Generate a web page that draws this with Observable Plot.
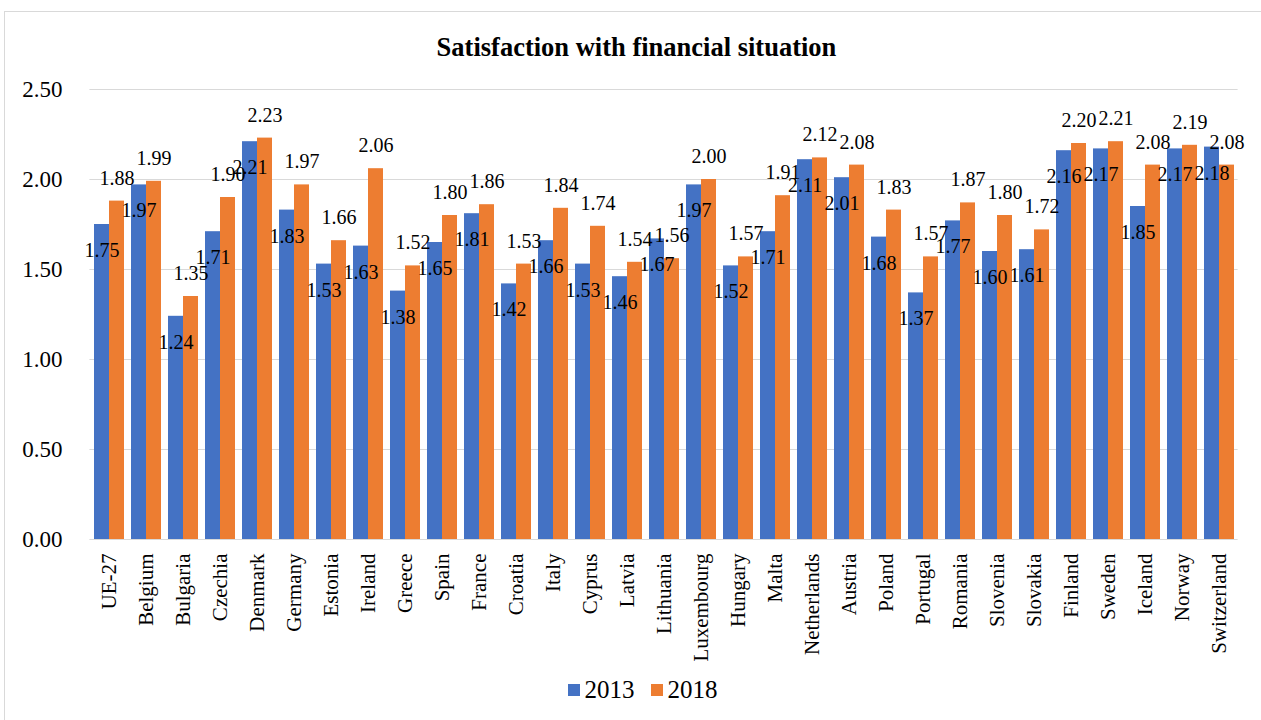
<!DOCTYPE html>
<html>
<head>
<meta charset="utf-8">
<script src="https://cdn.jsdelivr.net/npm/d3@7"></script>
<script src="https://cdn.jsdelivr.net/npm/@observablehq/plot@0.6"></script>
<style>
  html, body { margin: 0; padding: 0; background: #fff; }
  body { width: 1261px; height: 720px; overflow: hidden; position: relative; font-family: "Liberation Serif", "Times New Roman", serif; }
  #frame { position: absolute; left: 4px; top: 11px; width: 1270px; height: 730px; border: 1px solid #d9d9d9; box-sizing: border-box; }
  #title { position: absolute; left: 6px; width: 1261px; top: 31px; text-align: center; font-weight: bold; font-size: 26.5px; line-height: 32px; color: #000; }
  #chart { position: absolute; left: 0; top: 65px; }
  #legend { position: absolute; left: 12px; width: 1261px; top: 673px; text-align: center; font-size: 25px; line-height: 30px; color: #000; white-space: nowrap; }
  #legend span.item { display: inline-flex; align-items: center; margin: 0 8px; }
  #legend span.sw { display: inline-block; width: 12px; height: 12px; margin-right: 5px; }
</style>
</head>
<body>
<div id="frame"></div>
<div id="title">Satisfaction with financial situation</div>
<div id="chart"></div>
<div id="legend"></div>
<script>
const countries = ["UE-27","Belgium","Bulgaria","Czechia","Denmark","Germany","Estonia","Ireland","Greece","Spain","France","Croatia","Italy","Cyprus","Latvia","Lithuania","Luxembourg","Hungary","Malta","Netherlands","Austria","Poland","Portugal","Romania","Slovenia","Slovakia","Finland","Sweden","Iceland","Norway","Switzerland"];
const values2013 = [1.75,1.97,1.24,1.71,2.21,1.83,1.53,1.63,1.38,1.65,1.81,1.42,1.66,1.53,1.46,1.67,1.97,1.52,1.71,2.11,2.01,1.68,1.37,1.77,1.60,1.61,2.16,2.17,1.85,2.17,2.18];
const values2018 = [1.88,1.99,1.35,1.90,2.23,1.97,1.66,2.06,1.52,1.80,1.86,1.53,1.84,1.74,1.54,1.56,2.00,1.57,1.91,2.12,2.08,1.83,1.57,1.87,1.80,1.72,2.20,2.21,2.08,2.19,2.08];
const years = ["2013","2018"];
const colors = ["#4472C4","#ED7D31"];
const yTicks = [0, 0.5, 1, 1.5, 2, 2.5];

const data = countries.flatMap((c, i) => [
  {country: c, year: "2013", value: values2013[i]},
  {country: c, year: "2018", value: values2018[i]}
]);
const fmt = d3.format(".2f");

const chart = Plot.plot({
  width: 1261,
  height: 620,
  marginTop: 24,
  marginBottom: 146,
  marginLeft: 86,
  marginRight: 20,
  style: {fontFamily: "'Liberation Serif', 'Times New Roman', serif", background: "transparent", color: "#000", overflow: "visible"},
  fx: {domain: countries, paddingInner: 0.17, paddingOuter: 0.08, axis: null, label: null},
  x: {domain: years, padding: 0, axis: null},
  y: {domain: [0, 2.5], axis: null},
  color: {domain: years, range: colors},
  marks: [
    Plot.ruleY(yTicks, {stroke: "#d9d9d9", strokeWidth: 1, insetLeft: -3.6, insetRight: -3.6}),
    Plot.axisY({ticks: yTicks, tickFormat: d3.format(".2f"), tickSize: 0, tickPadding: 31, fontSize: 23, label: null}),
    Plot.barY(data, {fx: "country", x: "year", y: "value", fill: "year"}),
    Plot.text(data.filter(d => d.year === "2013"), {fx: "country", x: "year", y: "value", text: d => fmt(d.value), dy: 26, fontSize: 20, fill: "#000"}),
    Plot.text(data.filter(d => d.year === "2018"), {fx: "country", x: "year", y: "value", text: d => fmt(d.value), dy: -23, fontSize: 20, fill: "#000"}),
    Plot.axisFx({anchor: "bottom", tickRotate: -90, tickSize: 0, tickPadding: 14, fontSize: 21, label: null})
  ]
});
document.getElementById("chart").appendChild(chart);

const legend = document.getElementById("legend");
years.forEach((y, i) => {
  const item = document.createElement("span");
  item.className = "item";
  const sw = document.createElement("span");
  sw.className = "sw";
  sw.style.background = colors[i];
  item.appendChild(sw);
  item.appendChild(document.createTextNode(y));
  legend.appendChild(item);
});
</script>
</body>
</html>
